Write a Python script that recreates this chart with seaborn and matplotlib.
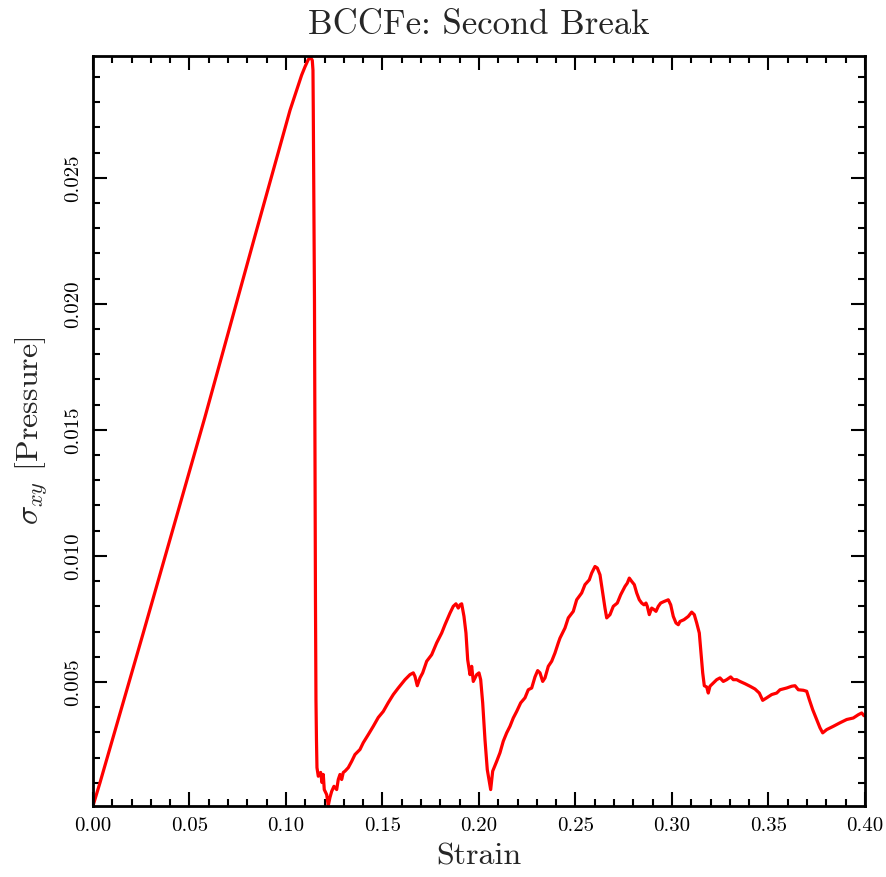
import numpy as np
import pandas as pd
import matplotlib
matplotlib.use("Agg")
import matplotlib.pyplot as plt
import seaborn as sns
from matplotlib.ticker import MultipleLocator, FormatStrFormatter

strain = [
    0.0, 0.00363, 0.0259, 0.058, 0.0836, 0.1021, 0.1081, 0.10984, 0.11155, 0.1128,
    0.11363, 0.11399, 0.11415, 0.11477, 0.11528, 0.11554, 0.1158, 0.11606,
    0.11674, 0.11798, 0.11865, 0.11933, 0.11984, 0.12109, 0.12192, 0.1228, 0.12368,
    0.12487, 0.12627, 0.1271, 0.12798, 0.12886, 0.12969, 0.13057, 0.13228, 0.13404,
    0.13575, 0.13834, 0.14005, 0.14264, 0.14523, 0.14782, 0.15041, 0.15301, 0.1556,
    0.15819, 0.16166, 0.16425, 0.16596, 0.16684, 0.16803, 0.16943, 0.17083, 0.1729,
    0.17549, 0.17808, 0.18067, 0.18238, 0.18497, 0.18668, 0.18808, 0.18927, 0.19016,
    0.19104, 0.19223, 0.19326, 0.19415, 0.19534, 0.19622, 0.19705, 0.19881, 0.2,
    0.20088, 0.20192, 0.20311, 0.2043, 0.20606, 0.2071, 0.20917, 0.21088, 0.21259,
    0.21435, 0.21606, 0.21777, 0.21953, 0.22161, 0.22383, 0.22554, 0.22731, 0.22902,
    0.23041, 0.23161, 0.23301, 0.2342, 0.23591, 0.23767, 0.23938, 0.24109, 0.24197,
    0.24456, 0.24627, 0.24886, 0.25062, 0.25321, 0.25492, 0.25715, 0.2584, 0.26011,
    0.2613, 0.2627, 0.2641, 0.26528, 0.26617, 0.26788, 0.26959, 0.27166, 0.27342,
    0.27565, 0.27684, 0.27788, 0.27912, 0.28047, 0.28171, 0.28306, 0.2843, 0.28549,
    0.28653, 0.2872, 0.28824, 0.28948, 0.29067, 0.29171, 0.2929, 0.29415, 0.29585,
    0.29808, 0.29933, 0.30067, 0.30207, 0.30326, 0.30415, 0.30622, 0.30845, 0.31021,
    0.31155, 0.3128, 0.31415, 0.31503, 0.31591, 0.31674, 0.31798, 0.3188, 0.31969,
    0.3214, 0.32316, 0.32487, 0.32658, 0.32834, 0.3304, 0.33176, 0.33352, 0.33523,
    0.33782, 0.34041, 0.343, 0.34523, 0.34699, 0.34907, 0.35166, 0.35425, 0.35596,
    0.35943, 0.36202, 0.36373, 0.36544, 0.36803, 0.36979, 0.37114, 0.3729, 0.37497,
    0.37668, 0.37808, 0.38016, 0.38358, 0.38705, 0.39052, 0.39394, 0.39653, 0.39829,
    0.39948,
]

stress = [
    0.00008, 0.00100, 0.0069, 0.0155, 0.0226, 0.02768, 0.02907, 0.0294, 0.02969, 0.02977,
    0.02966, 0.02927, 0.02768, 0.02015, 0.00826, 0.0043, 0.00271, 0.0016,
    0.00126, 0.00141, 0.00101, 0.00133, 0.00073, 0.00053, 0.0001, 0.00042, 0.00066,
    0.00086, 0.00073, 0.00113, 0.00133, 0.00113, 0.00141, 0.00146, 0.0016, 0.00185,
    0.00212, 0.00232, 0.00259, 0.00291, 0.00324, 0.00359, 0.00383, 0.00418, 0.0045,
    0.00476, 0.00509, 0.00529, 0.00536, 0.00522, 0.00485, 0.00516, 0.00536, 0.00582,
    0.00608, 0.00655, 0.00694, 0.00727, 0.00773, 0.008, 0.0081, 0.00793, 0.00806,
    0.0081, 0.0076, 0.00694, 0.00588, 0.00529, 0.00562, 0.00502, 0.00529, 0.00536,
    0.00509, 0.00417, 0.00271, 0.00152, 0.00073, 0.00146, 0.00185, 0.00219, 0.00265,
    0.00298, 0.00324, 0.00357, 0.00383, 0.00417, 0.00437, 0.00469, 0.00476, 0.0052,
    0.00545, 0.00536, 0.00502, 0.00516, 0.00562, 0.00582, 0.00615, 0.00655, 0.00674,
    0.00714, 0.00754, 0.0078, 0.00826, 0.00853, 0.00886, 0.00905, 0.00932, 0.00958,
    0.00952, 0.00925, 0.00853, 0.00793, 0.00754, 0.00767, 0.008, 0.00813, 0.00846,
    0.00879, 0.00892, 0.00912, 0.00899, 0.00886, 0.00853, 0.00826, 0.00813, 0.00806,
    0.00813, 0.008, 0.00767, 0.00793, 0.00787, 0.0078, 0.008, 0.00813, 0.00819,
    0.00826, 0.00806, 0.0076, 0.00734, 0.00727, 0.0074, 0.00747, 0.0076, 0.00777,
    0.00767, 0.00734, 0.00694, 0.00615, 0.00536, 0.00485, 0.0048, 0.00456, 0.00483,
    0.00496, 0.00509, 0.00516, 0.00502, 0.00509, 0.0052, 0.00509, 0.00509, 0.00502,
    0.00493, 0.00483, 0.00472, 0.00456, 0.00427, 0.00437, 0.0045, 0.00456, 0.00469,
    0.00476, 0.00483, 0.00485, 0.00469, 0.00467, 0.00463, 0.0043, 0.0039, 0.00351,
    0.00318, 0.00298, 0.00311, 0.00324, 0.00338, 0.00351, 0.00357, 0.0037, 0.00377,
    0.00366,
]

x_ticks = [0.00, 0.05, 0.10, 0.15, 0.20, 0.25, 0.30, 0.35, 0.40]
y_ticks = [0.005, 0.010, 0.015, 0.020, 0.025]

sns.set_style("ticks")
plt.rcParams["font.family"] = "serif"
plt.rcParams["font.serif"] = ["cmr10", "DejaVu Serif"]
plt.rcParams["mathtext.fontset"] = "cm"
plt.rcParams["axes.formatter.use_mathtext"] = True

df = pd.DataFrame({"Strain": strain, "Stress": stress})

fig = plt.figure(figsize=(8.87, 8.77), dpi=100)
ax = fig.add_axes([0.1048, 0.0810, 0.8704, 0.8551])
sns.lineplot(data=df, x="Strain", y="Stress", ax=ax, color="#ff0000",
             linewidth=2.3, sort=False, estimator=None)

ax.set_xlim(0.0, 0.40)
ax.set_ylim(0.00008, 0.02983)
ax.set_xticks(x_ticks)
ax.set_yticks(y_ticks)
ax.xaxis.set_major_formatter(FormatStrFormatter("%.2f"))
ax.yaxis.set_major_formatter(FormatStrFormatter("%.3f"))
ax.xaxis.set_minor_locator(MultipleLocator(0.01))
ax.yaxis.set_minor_locator(MultipleLocator(0.001))
ax.tick_params(which="both", direction="in", top=True, right=True,
               width=1.5, colors="black")
ax.tick_params(which="major", length=10, labelsize=15, pad=8)
ax.tick_params(which="minor", length=5)
for lbl in ax.get_yticklabels():
    lbl.set_rotation(90)
    lbl.set_va("center")
for sp in ax.spines.values():
    sp.set_linewidth(2.0)
    sp.set_color("black")

ax.set_title("BCCFe: Second Break", fontsize=25, pad=16)
ax.set_xlabel("Strain", fontsize=23, labelpad=6)
ax.set_ylabel(r"$\sigma_{xy}$ [Pressure]", fontsize=23, labelpad=10)

fig.savefig("out.png", dpi=100)
